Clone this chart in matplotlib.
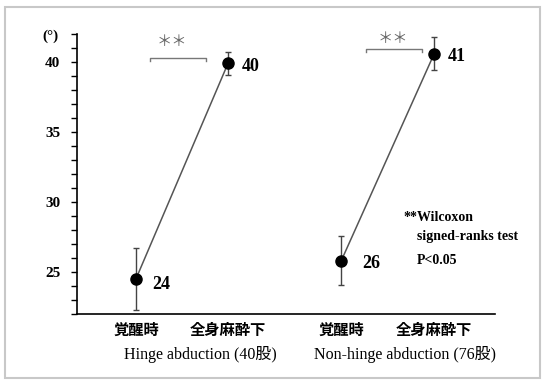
import matplotlib.pyplot as plt
from matplotlib.patches import Rectangle

# 値
positions = [0, 1, 2.23, 3.24]
means = [24.5, 39.9, 25.8, 40.6]
sds = [2.2, 0.85, 1.75, 1.2]
value_labels = ['24', '40', '26', '41']
tick_labels = ['覚醒時', '全身麻酔下', '覚醒時', '全身麻酔下']
groups = ['Hinge abduction (40股)', 'Non-hinge abduction (76股)']
group_x = [0.70, 2.92]

serif = ['Liberation Serif', 'Noto Sans CJK JP']
cjk = ['Noto Sans CJK JP', 'DejaVu Sans']

fig = plt.figure(figsize=(5.43, 3.80), dpi=100)
ax = fig.add_axes([0.1418, 0.1737, 0.9116 - 0.1418, 0.9105 - 0.1737])

# 線と点
for i in (0, 2):
    xs = positions[i:i + 2]
    ys = means[i:i + 2]
    ax.plot(xs, ys, color='#555555', lw=1.1, zorder=2)
    ax.errorbar(xs, ys, yerr=sds[i:i + 2], fmt='o', color='black', ms=8,
                ecolor='#444444', elinewidth=1, capsize=2.5, capthick=1, zorder=3)

offsets = [(12, -4), (10, -2), (15, -2), (10, -2)]
for x, y, lab, off in zip(positions, means, value_labels, offsets):
    ax.annotate(lab, (x, y), xytext=off, textcoords='offset points',
                fontsize=13, fontweight='bold', family=serif, va='center')

# 有意差のブラケット
brackets = [(0.15, 0.76, 40.3, 0.39, 41.5), (2.5, 3.11, 40.93, 2.79, 41.7)]
for x0, x1, yb, xs_, ys_ in brackets:
    ax.plot([x0, x0, x1, x1], [yb - 0.22, yb, yb, yb - 0.22], color='#777777', lw=1)
    ax.text(xs_, ys_, '＊＊', ha='center', va='center', fontsize=11, color='#666666',
            family=cjk)

ax.text(2.90, 28.86, '**Wilcoxon', fontsize=10, fontweight='bold', family=serif, va='center')
ax.text(3.05, 27.57, 'signed-ranks test', fontsize=10, fontweight='bold', family=serif, va='center')
ax.text(3.05, 25.79, 'P<0.05', fontsize=10, fontweight='bold', family=serif, va='center')

ax.set_xlim(-0.64, 3.90)
ax.set_ylim(22, 42)
ax.set_yticks([25, 30, 35, 40])
ax.set_yticks(range(22, 43), minor=True)
ax.tick_params(axis='y', which='both', direction='out', length=4, width=1, pad=8)
for t in ax.get_yticklabels():
    t.set_fontfamily(serif)
    t.set_fontweight('bold')
    t.set_fontsize(11)

ax.set_xticks(positions)
ax.set_xticklabels(tick_labels, family=cjk, fontsize=11, fontweight='bold')
ax.tick_params(axis='x', length=0, pad=6)

for gx, g in zip(group_x, groups):
    ax.text(gx, -0.145, g, transform=ax.get_xaxis_transform(), ha='center', va='center',
            fontsize=11.5, family=serif)

for s in ('top', 'right'):
    ax.spines[s].set_visible(False)
ax.spines['left'].set_linewidth(1.2)
ax.spines['bottom'].set_linewidth(1.2)

fig.text(50 / 543, 1 - 36 / 380, '(°)', fontsize=11, fontweight='bold', family=serif,
         ha='center', va='center')

# 外枠
fig.patches.append(Rectangle((5 / 543, 2 / 380), 535 / 543, 371 / 380, transform=fig.transFigure,
                             fill=False, edgecolor='#c8c8c8', lw=1.5))

fig.savefig('out.png', dpi=100)
